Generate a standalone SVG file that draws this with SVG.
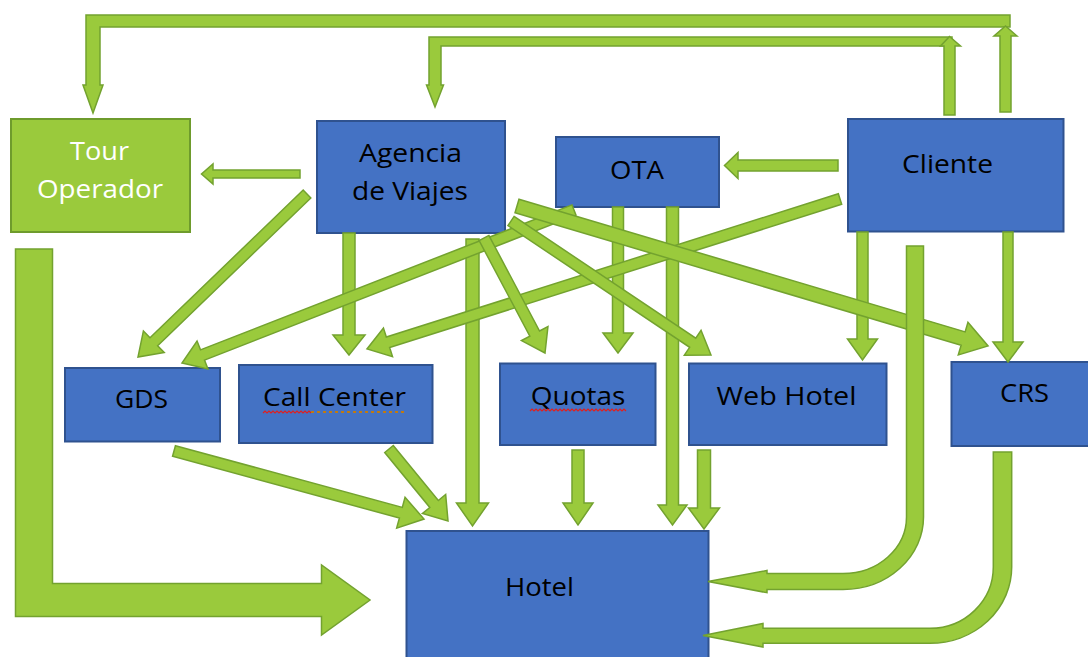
<svg xmlns="http://www.w3.org/2000/svg" width="1088" height="657" viewBox="0 0 1088 657">
<style>
.box{fill:#4472C4;stroke:#2F528F;stroke-width:2}
.gbox{fill:#9ACA3C;stroke:#6E9B2C;stroke-width:2}
.arr{fill:#9ACA3C;stroke:#73A22F;stroke-width:1.5;stroke-linejoin:miter}
.t{font-family:"Open Sans","Liberation Sans",sans-serif;font-size:26px;fill:#000;text-anchor:middle}
.tw{fill:#fff}
.wave{fill:none;stroke:#E0201E;stroke-width:1.2}
.dots{fill:none;stroke:#C07A10;stroke-width:2;stroke-dasharray:3 3}
</style>
<rect width="1088" height="657" fill="#fff"/>

<g id="nodes">
<g id="tour-operador">
<rect class="gbox" x="11" y="119" width="179" height="113"/>
<text class="t tw" x="99.5" y="160" textLength="59" lengthAdjust="spacingAndGlyphs">Tour</text>
<text class="t tw" x="100" y="198" textLength="126" lengthAdjust="spacingAndGlyphs">Operador</text>
</g>
<g id="agencia">
<rect class="box" x="317" y="121" width="188" height="112"/>
<text class="t" x="410.5" y="162" textLength="103" lengthAdjust="spacingAndGlyphs">Agencia</text>
<text class="t" x="410" y="200" textLength="116" lengthAdjust="spacingAndGlyphs">de Viajes</text>
</g>
<g id="ota">
<rect class="box" x="556" y="137" width="163" height="70"/>
<text class="t" x="637" y="179" textLength="54" lengthAdjust="spacingAndGlyphs">OTA</text>
</g>
<g id="cliente">
<rect class="box" x="848" y="119" width="215.5" height="112.5"/>
<text class="t" x="947.5" y="173.3" textLength="91" lengthAdjust="spacingAndGlyphs">Cliente</text>
</g>
<g id="gds">
<rect class="box" x="65" y="368" width="155" height="73.5"/>
<text class="t" x="141.5" y="408.3" textLength="53" lengthAdjust="spacingAndGlyphs">GDS</text>
</g>
<g id="call-center">
<rect class="box" x="239" y="365" width="193.5" height="78"/>
<text class="t" x="334.5" y="405.7" textLength="143" lengthAdjust="spacingAndGlyphs">Call Center</text>
<path class="wave" d="M263,413 l2,-2 l2,2 l2,-2 l2,2 l2,-2 l2,2 l2,-2 l2,2 l2,-2 l2,2 l2,-2 l2,2 l2,-2 l2,2 l2,-2 l2,2 l2,-2 l2,2 l2,-2 l2,2 l2,-2 l2,2 l2,-2 l2,2"/>
<path class="dots" d="M311,412 H407"/>
</g>
<g id="quotas">
<rect class="box" x="500" y="363.5" width="155.5" height="81.5"/>
<text class="t" x="578" y="405" textLength="94.5" lengthAdjust="spacingAndGlyphs">Quotas</text>
<path class="wave" d="M530,411 l2,-2 l2,2 l2,-2 l2,2 l2,-2 l2,2 l2,-2 l2,2 l2,-2 l2,2 l2,-2 l2,2 l2,-2 l2,2 l2,-2 l2,2 l2,-2 l2,2 l2,-2 l2,2 l2,-2 l2,2 l2,-2 l2,2 l2,-2 l2,2 l2,-2 l2,2 l2,-2 l2,2 l2,-2 l2,2 l2,-2 l2,2 l2,-2 l2,2 l2,-2 l2,2 l2,-2 l2,2 l2,-2 l2,2 l2,-2 l2,2 l2,-2 l2,2 l2,-2 l2,2"/>
</g>
<g id="web-hotel">
<rect class="box" x="689" y="363.5" width="197.5" height="81.5"/>
<text class="t" x="786.5" y="405" textLength="140" lengthAdjust="spacingAndGlyphs">Web Hotel</text>
</g>
<g id="crs">
<rect class="box" x="951.5" y="362" width="140" height="84"/>
<text class="t" x="1024.5" y="401.5" textLength="49" lengthAdjust="spacingAndGlyphs">CRS</text>
</g>
<g id="hotel">
<rect class="box" x="406.5" y="531" width="302" height="130"/>
<text class="t" x="539.5" y="595.5" textLength="69" lengthAdjust="spacingAndGlyphs">Hotel</text>
</g>
</g>

<g id="connectors">
<!-- Cliente -> Tour Operador (top loop) -->
<path class="arr" d="M1010,15 V27 H100 V85 H103 L93,113 L83,85 H86 V15 Z"/>
<path class="arr" d="M1000,112 V36 H994 L1005.5,26 L1017,36 H1011 V112 Z"/>
<!-- Cliente -> Agencia (second loop) -->
<path class="arr" d="M952,37 V46 H441 V85 H443.5 L435,107 L426.5,85 H429 V37 Z"/>
<path class="arr" d="M944,115 V46 H940.5 L949.5,36.5 L960.5,46 H955 V115 Z"/>
<!-- Agencia -> Tour Operador -->
<path class="arr" d="M300,170 V178 H213 V184 L201.5,174 L213,164 V170 Z"/>
<!-- Cliente -> OTA -->
<path class="arr" d="M838,160 V171 H738 V178.5 L724.5,165.5 L738,152.5 V160 Z"/>
<!-- Tour Operador -> Hotel -->
<path class="arr" d="M15.5,249 H52.5 V583.5 H321.5 V565 L370,600 L321.5,635 V616.5 H15.5 Z"/>
<!-- verticals -->
<path class="arr" d="M343,233 H355 V335 H365 L349,355 L333,335 H343 Z"/>
<path class="arr" d="M466,239 H479 V503 H488.5 L472.5,526 L456.5,503 H466 Z"/>
<path class="arr" d="M612.5,207 H623.5 V333 H633 L618,353 L603,333 H612.5 Z"/>
<path class="arr" d="M666.5,207 H678.5 V505 H687 L672.5,525 L658,505 H666.5 Z"/>
<path class="arr" d="M857,232 H868 V339 H877.5 L862.5,360 L847.5,339 H857 Z"/>
<path class="arr" d="M1003,232 H1013 V342 H1023 L1008,362 L993,342 H1003 Z"/>
<path class="arr" d="M572,450 H584 V503 H593 L578,525 L563,503 H572 Z"/>
<path class="arr" d="M697.5,450 H710.5 V508 H719.5 L704,529 L688.5,508 H697.5 Z"/>
<!-- diagonals -->
<polygon class="arr" transform="translate(307,194) rotate(136.04)" points="0,-5.5 212.8,-5.5 212.8,-15 234.8,0 212.8,15 212.8,5.5 0,5.5"/>
<polygon class="arr" transform="translate(574,210) rotate(158.68)" points="0,-5.5 398.8,-5.5 398.8,-15 420.8,0 398.8,15 398.8,5.5 0,5.5"/>
<polygon class="arr" transform="translate(840,199) rotate(162.41)" points="0,-5.5 474.2,-5.5 474.2,-15 496.2,0 474.2,15 474.2,5.5 0,5.5"/>
<polygon class="arr" transform="translate(484,238) rotate(62.06)" points="0,-5.5 108.2,-5.5 108.2,-15 130.2,0 108.2,15 108.2,5.5 0,5.5"/>
<polygon class="arr" transform="translate(511,221) rotate(33.82)" points="0,-5.5 218.7,-5.5 218.7,-15 240.7,0 218.7,15 218.7,5.5 0,5.5"/>
<polygon class="arr" transform="translate(517,206) rotate(16.55)" points="0,-7 465.4,-7 465.4,-17 491.4,0 465.4,17 465.4,7 0,7"/>
<polygon class="arr" transform="translate(174,451) rotate(15.22)" points="0,-5.5 235.1,-5.5 235.1,-16 259.1,0 235.1,16 235.1,5.5 0,5.5"/>
<polygon class="arr" transform="translate(389,449) rotate(50.67)" points="0,-5.5 71.1,-5.5 71.1,-15 93.1,0 71.1,15 71.1,5.5 0,5.5"/>
<!-- curved: Cliente -> Hotel, CRS -> Hotel -->
<path class="arr" d="M906.5,246 H923.5 V517 A80.5,72.5 0 0 1 843,589.5 H767 V592.7 L708,581.5 L767,570.5 V573.5 H843 A63.5,56.5 0 0 0 906.5,517 Z"/>
<path class="arr" d="M993.3,452 H1011.7 V567 A81.7,76.3 0 0 1 930,643.3 H763 V647 L703,635.5 L763,623.5 V628.3 H930 A63.3,61.3 0 0 0 993.3,567 Z"/>
</g>
</svg>
